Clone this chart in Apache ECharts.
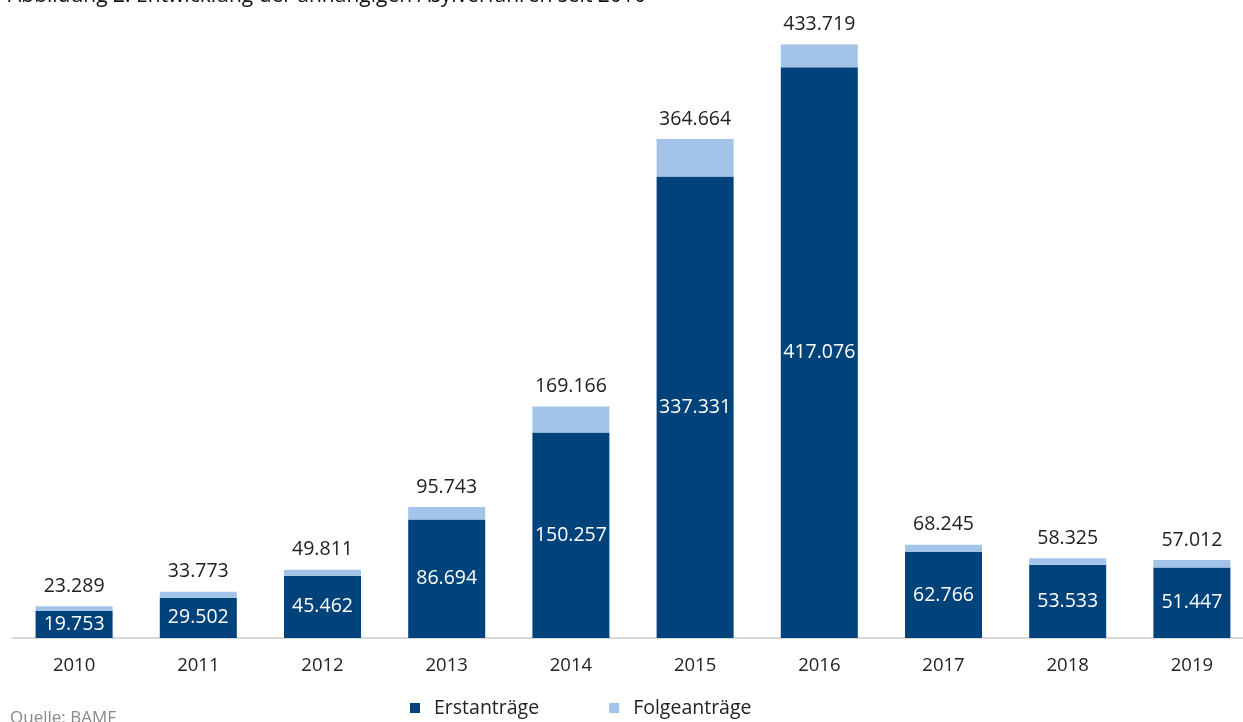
<!DOCTYPE html>
<html>
<head>
<meta charset="utf-8">
<script src="https://cdn.jsdelivr.net/npm/echarts@6/dist/echarts.min.js"></script>
<style>
html,body{margin:0;padding:0;background:#fff;overflow:hidden;width:1243px;height:722px;}
#chart{width:1256px;height:722px;}
</style>
</head>
<body>
<div id="chart"></div>
<script>
const years = ['2010','2011','2012','2013','2014','2015','2016','2017','2018','2019'];
const erstantraege = [19753, 29502, 45462, 86694, 150257, 337331, 417076, 62766, 53533, 51447];
const gesamt = [23289, 33773, 49811, 95743, 169166, 364664, 433719, 68245, 58325, 57012];
const folgeantraege = [3536, 4271, 4349, 9049, 18909, 27333, 16643, 5479, 4792, 5565];

const fmt = v => v.toLocaleString('de-DE');
const FONT = '"Open Sans", "Noto Sans", sans-serif';

const chart = echarts.init(document.getElementById('chart'));
chart.setOption({
  animation: false,
  textStyle: { fontFamily: FONT },
  grid: { left: 12, right: 2, top: 36, bottom: 84, containLabel: false },
  xAxis: {
    type: 'category',
    data: years,
    axisLine: { lineStyle: { color: '#cccccc', width: 1.5 } },
    axisTick: { show: false },
    axisLabel: { color: '#222', fontSize: 18.5, margin: 18, fontFamily: FONT }
  },
  yAxis: {
    type: 'value', min: 0, max: 440000, show: false,
    splitLine: { show: false }
  },
  legend: {
    bottom: -1, left: 405,
    itemWidth: 10, itemHeight: 10, itemGap: 70,
    icon: 'rect',
    textStyle: { color: '#222', fontSize: 19.5, fontFamily: FONT, padding: [0, 0, 0, 9] },
    data: ['Erstanträge', 'Folgeanträge']
  },
  graphic: [
    { type: 'text', left: 8, top: -14, style: { text: 'Abbildung 2: Entwicklung der anhängigen Asylverfahren seit 2010', fontSize: 21, fontWeight: 500, fill: '#111', fontFamily: FONT } },
    { type: 'text', left: 10, top: 710, style: { text: 'Quelle: BAMF', fontSize: 17, fill: '#888', fontFamily: FONT } }
  ],
  series: [
    {
      name: 'Erstanträge', type: 'bar', stack: 'a',
      data: erstantraege,
      barCategoryGap: '38%',
      itemStyle: { color: '#00427a' },
      label: { show: true, position: 'inside', color: '#fff', fontSize: 19.5, fontFamily: FONT, formatter: p => fmt(p.value) }
    },
    {
      name: 'Folgeanträge', type: 'bar', stack: 'a',
      data: folgeantraege,
      itemStyle: { color: '#a3c4e8' },
      label: { show: true, position: 'top', distance: 10, color: '#222', fontSize: 19.5, fontFamily: FONT, formatter: p => fmt(gesamt[p.dataIndex]) }
    }
  ]
});
</script>
</body>
</html>
